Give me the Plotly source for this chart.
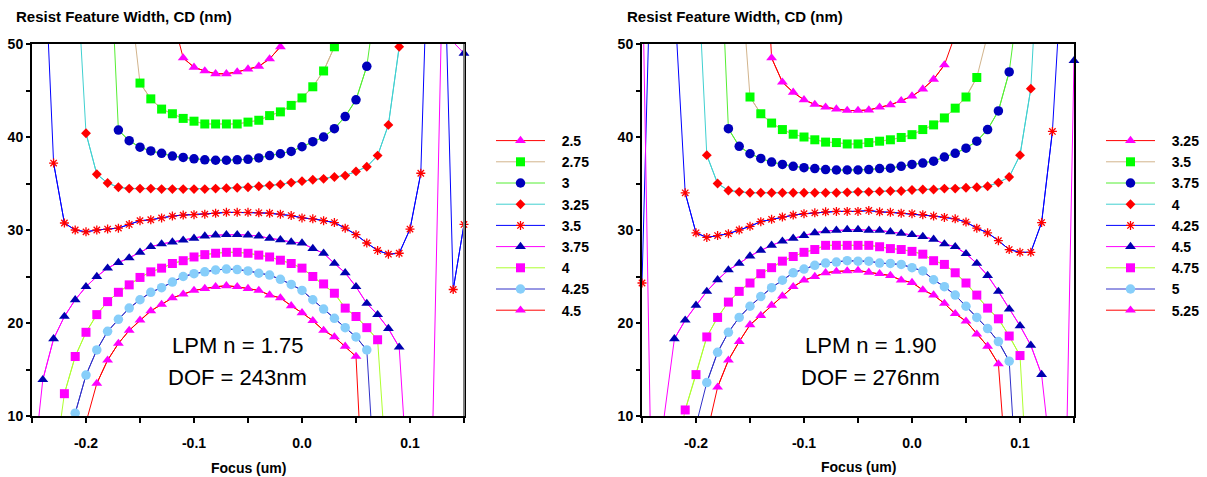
import plotly.graph_objects as go

# Focus grid (um) shared by every curve
FOCUS = [-0.25, -0.24, -0.23, -0.22, -0.21, -0.20, -0.19, -0.18, -0.17, -0.16,
         -0.15, -0.14, -0.13, -0.12, -0.11, -0.10, -0.09, -0.08, -0.07, -0.06,
         -0.05, -0.04, -0.03, -0.02, -0.01, 0.00, 0.01, 0.02, 0.03, 0.04,
         0.05, 0.06, 0.07, 0.08, 0.09, 0.10, 0.11, 0.12, 0.13, 0.14, 0.15]

# ---- Left panel: LPM n = 1.75 -------------------------------------------
# each curve: (first focus value, CD values in nm at consecutive focus steps)
left_labels = ["2.5", "2.75", "3", "3.25", "3.5", "3.75", "4", "4.25", "4.5"]

left_cd_2_5 = (-0.12, [53, 48.5, 47.5, 47.1, 46.8, 46.8, 47.0, 47.3, 47.6, 48.4,
                       49.7, 53])
left_cd_2_75 = (-0.16, [56, 45.8, 44.1, 43.0, 42.5, 42.0, 41.7, 41.4, 41.4, 41.4,
                        41.4, 41.6, 41.8, 42.3, 42.7, 43.4, 44.2, 45.4, 47.1, 49.7,
                        53])
left_cd_3 = (-0.18, [66, 40.75, 39.6, 38.9, 38.5, 38.25, 37.95, 37.8, 37.65, 37.55,
                     37.5, 37.5, 37.55, 37.6, 37.75, 38.0, 38.2, 38.45, 38.95, 39.5,
                     40.0, 40.9, 42.2, 44.0, 47.6, 56])
left_cd_3_25 = (-0.21, [61, 40.4, 36.0, 35.05, 34.6, 34.45, 34.45, 34.45, 34.4, 34.4,
                        34.4, 34.4, 34.4, 34.45, 34.5, 34.55, 34.6, 34.7, 34.8, 34.9,
                        35.1, 35.25, 35.4, 35.5, 35.7, 35.85, 36.3, 36.8, 38.0, 41.3,
                        49.7, 60])
left_cd_3_5 = (-0.24, [64, 37.2, 30.75, 30.0, 29.8, 30.0, 30.1, 30.2, 30.6, 31.0,
                       31.1, 31.3, 31.5, 31.6, 31.65, 31.7, 31.8, 31.9, 31.9, 31.9,
                       31.85, 31.8, 31.7, 31.55, 31.3, 31.2, 31.0, 30.8, 30.2, 29.5,
                       28.6, 27.8, 27.4, 27.5, 30.1, 36.1, 74, 68, 23.6, 30.6])
left_cd_3_75 = (-0.25, [3, 13.9, 18.3, 20.7, 22.5, 23.9, 25.0, 25.9, 26.5, 27.0,
                        27.6, 28.2, 28.5, 28.7, 28.9, 29.1, 29.35, 29.45, 29.5, 29.5,
                        29.45, 29.35, 29.1, 28.95, 28.7, 28.6, 28.0, 27.5, 26.4, 25.4,
                        23.9, 22.1, 20.9, 19.4, 17.4, -1, -5, 3, 57, 50.2,
                        49.0])
left_cd_4 = (-0.23, [4, 12.4, 16.4, 19.0, 20.9, 22.3, 23.3, 24.1, 24.9, 25.5,
                     25.9, 26.4, 26.7, 27.1, 27.35, 27.5, 27.6, 27.6, 27.5, 27.3,
                     27.1, 26.75, 26.4, 25.9, 25.0, 24.2, 23.2, 21.6, 20.7, 19.5,
                     18.2, 1])
left_cd_4_25 = (-0.22, [0, 10.3, 14.4, 17.1, 19.1, 20.4, 21.6, 22.5, 23.3, 23.8,
                        24.4, 25.0, 25.3, 25.5, 25.7, 25.8, 25.75, 25.6, 25.35, 25.15,
                        24.7, 24.15, 23.5, 22.5, 21.5, 20.5, 19.5, 18.5, 17.1, -2])
left_cd_4_5 = (-0.20, [9.3, 13.5, 16.0, 17.8, 19.2, 20.3, 21.3, 22.0, 22.7, 23.1,
                       23.5, 23.7, 23.9, 24.0, 23.9, 23.7, 23.5, 23.0, 22.7, 21.85,
                       21.1, 20.25, 19.2, 18.5, 17.5, 16.4, -7])

# ---- Right panel: LPM n = 1.90 ------------------------------------------
right_labels = ["3.25", "3.5", "3.75", "4", "4.25", "4.5", "4.75", "5", "5.25"]

right_cd_3_25 = (-0.14, [70, 48.5, 45.9, 44.8, 44.0, 43.5, 43.2, 43.0, 42.85, 42.85,
                         42.9, 43.2, 43.45, 43.9, 44.4, 45.15, 46.2, 47.75, 51, 56])
right_cd_3_5 = (-0.16, [60, 44.3, 42.5, 41.5, 40.8, 40.3, 40.0, 39.7, 39.45, 39.4,
                        39.25, 39.25, 39.4, 39.55, 39.7, 39.95, 40.25, 40.8, 41.3, 42.05,
                        43.1, 44.3, 46.4, 51, 60])
right_cd_3_75 = (-0.18, [68, 40.9, 39.0, 38.2, 37.7, 37.3, 37.05, 36.85, 36.7, 36.6,
                         36.5, 36.45, 36.45, 36.45, 36.5, 36.6, 36.65, 36.85, 37.05, 37.2,
                         37.4, 37.85, 38.25, 38.8, 39.55, 40.8, 42.8, 47.0, 56])
right_cd_4 = (-0.20, [62, 38.05, 35.0, 34.25, 34.1, 34.0, 34.0, 34.0, 34.0, 34.0,
                      34.0, 34.0, 34.0, 34.0, 34.05, 34.1, 34.1, 34.15, 34.2, 34.2,
                      34.3, 34.35, 34.35, 34.45, 34.45, 34.55, 34.6, 34.7, 35.1, 35.7,
                      38.05, 45.2, 67])
right_cd_4_25 = (-0.25, [24.3, 68, 70, 55, 34.0, 29.7, 29.2, 29.4, 29.6, 30.0,
                         30.4, 30.9, 31.15, 31.4, 31.6, 31.75, 31.85, 31.95, 32.0, 32.0,
                         32.0, 32.1, 31.95, 31.9, 31.8, 31.75, 31.65, 31.5, 31.35, 31.2,
                         30.85, 30.2, 29.7, 28.85, 27.9, 27.6, 27.6, 30.8, 40.6, 63,
                         80])
right_cd_4_5 = (-0.25, [61, -7, 9.5, 18.3, 20.3, 21.9, 23.4, 24.65, 25.7, 26.4,
                        27.2, 27.8, 28.35, 28.8, 29.1, 29.4, 29.7, 29.9, 29.97, 30.05,
                        30.05, 29.97, 29.95, 29.8, 29.65, 29.5, 29.3, 29.0, 28.5, 28.2,
                        27.45, 26.4, 25.1, 23.4, 21.5, 19.7, 17.6, 14.45, 4, -12,
                        48.2])
right_cd_4_75 = (-0.22, [5, 10.65, 14.45, 18.5, 20.6, 22.25, 23.4, 24.3, 25.3, 25.95,
                         26.65, 27.15, 27.6, 27.9, 28.35, 28.35, 28.35, 28.35, 28.35, 28.2,
                         28.0, 27.9, 27.7, 27.4, 26.7, 26.3, 25.4, 24.3, 23.0, 21.6,
                         20.45, 18.6, 16.5, -4])
right_cd_5 = (-0.20, [9, 13.6, 16.85, 19.0, 20.6, 21.8, 22.85, 23.8, 24.6, 25.4,
                      25.8, 26.2, 26.45, 26.55, 26.7, 26.65, 26.65, 26.45, 26.4, 26.3,
                      25.95, 25.6, 24.65, 23.9, 23.0, 21.8, 20.6, 19.4, 18.0, 15.9,
                      -3])
right_cd_5_25 = (-0.19, [8, 13.1, 16.0, 18.0, 19.8, 20.8, 21.9, 22.9, 23.9, 24.6,
                         25.0, 25.4, 25.55, 25.6, 25.65, 25.45, 25.3, 25.1, 24.6, 24.35,
                         23.55, 23.0, 22.1, 21.0, 20.2, 18.8, 17.5, 15.6, 0])

left_curves = [left_cd_2_5, left_cd_2_75, left_cd_3, left_cd_3_25, left_cd_3_5,
               left_cd_3_75, left_cd_4, left_cd_4_25, left_cd_4_5]
right_curves = [right_cd_3_25, right_cd_3_5, right_cd_3_75, right_cd_4, right_cd_4_25,
                right_cd_4_5, right_cd_4_75, right_cd_5, right_cd_5_25]

# text shown on the charts
x_tick_vals = [-0.25, -0.2, -0.15, -0.1, -0.05, 0.0, 0.05, 0.1, 0.15]
x_tick_text = ["", "-0.2", "", "-0.1", "", "0.0", "", "0.1", ""]
y_tick_vals = [10, 15, 20, 25, 30, 35, 40, 45, 50]
y_tick_text = ["10", "", "20", "", "30", "", "40", "", "50"]
left_notes = ["LPM n = 1.75", "DOF = 243nm"]
right_notes = ["LPM n = 1.90", "DOF = 276nm"]
y_title = "Resist Feature Width, CD (nm)"
x_title = "Focus (um)"

CD_MIN, CD_MAX = 10, 50

# line colour, marker symbol, marker colour, marker size (same sequence in both panels)
STYLES = [
    ("#ff0000", "triangle-up", "#ff00ff", 9.5),
    ("#d2b48c", "square", "#00ff00", 9),
    ("#55ee33", "circle", "#0000bb", 9.5),
    ("#40d0d0", "diamond", "#ff0000", 7.6),
    ("#0000ff", "asterisk-open", "#ff0000", 7.5),
    ("#ff00ff", "triangle-up", "#0000b0", 9.5),
    ("#adff2f", "square", "#ff00ff", 9),
    ("#3030c8", "circle", "#87cefa", 9.5),
    ("#ff0000", "triangle-up", "#ff00ff", 9.5),
]

BOLD = dict(family="Liberation Sans, Arial, sans-serif", size=14, color="black", weight="bold")
NOTE = dict(family="Liberation Sans, Arial, sans-serif", size=22, color="black")

W, H = 1207, 477
LEGEND_PAD = "\u00a0\u00a0\u00a0"   # gap between legend sample and its label


def on_grid(curve):
    start, values = curve
    i0 = int(round((start - FOCUS[0]) / 0.01))
    return [None] * i0 + list(values) + [None] * (len(FOCUS) - i0 - len(values))


fig = go.Figure()


def add_panel(curves, labels, xa, ya, legend_name):
    for k, (curve, label) in enumerate(zip(curves, labels)):
        lc, sym, mc, ms = STYLES[k]
        cd = on_grid(curve)
        # full curve, clipped by the plot area
        fig.add_trace(go.Scatter(
            x=FOCUS, y=cd, mode="lines", xaxis=xa, yaxis=ya,
            line=dict(color=lc, width=1), showlegend=False, hoverinfo="skip"))
        # markers only where the CD lies inside the axis range
        cd_in = [v if v is not None and CD_MIN <= v <= CD_MAX else None for v in cd]
        is_open = sym.endswith("open")
        fig.add_trace(go.Scatter(
            x=FOCUS, y=cd_in, mode="lines+markers", xaxis=xa, yaxis=ya,
            name=LEGEND_PAD + label,
            legend=legend_name, legendgroup=legend_name + label,
            line=dict(color=lc, width=1), cliponaxis=False,
            marker=dict(symbol=sym, color=mc, size=ms,
                        line=dict(color=mc, width=1.3 if is_open else 0))))


add_panel(left_curves, left_labels, "x", "y", "legend")
add_panel(right_curves, right_labels, "x2", "y2", "legend2")

y_dom = [1 - 416 / H, 1 - 44 / H]
left_dom = [32 / W, 464 / W]
right_dom = [642 / W, 1074 / W]


def xaxis(domain, anchor):
    return dict(domain=domain, anchor=anchor, range=[-0.25, 0.15], tickmode="array",
                tickvals=x_tick_vals, ticktext=x_tick_text, ticks="outside", ticklen=5,
                tickwidth=1.5, tickcolor="black", showline=True, linecolor="black",
                linewidth=2, mirror=True, showgrid=False, zeroline=False,
                tickfont=BOLD, ticklabelstandoff=8, fixedrange=True, automargin=False)


def yaxis(anchor):
    return dict(domain=y_dom, anchor=anchor, range=[CD_MIN, CD_MAX], tickmode="array",
                tickvals=y_tick_vals, ticktext=y_tick_text, ticks="outside", ticklen=4,
                tickwidth=1.5, tickcolor="black", showline=True, linecolor="black",
                linewidth=2, mirror=True, showgrid=False, zeroline=False,
                tickfont=BOLD, fixedrange=True, automargin=False)


def legend_at(x_px, y_px):
    return dict(x=x_px / W, y=1 - y_px / H, xanchor="left", yanchor="top",
                font=BOLD, bgcolor="rgba(0,0,0,0)", borderwidth=0, itemwidth=49,
                tracegroupgap=0, traceorder="grouped")


annotations = [
    dict(text=y_title, x=14 / W, y=1 - 17 / H, xref="paper", yref="paper",
         xanchor="left", yanchor="middle", showarrow=False, font=dict(BOLD, size=15)),
    dict(text=y_title, x=625 / W, y=1 - 17 / H, xref="paper", yref="paper",
         xanchor="left", yanchor="middle", showarrow=False, font=dict(BOLD, size=15)),
    dict(text=x_title, x=(left_dom[0] + left_dom[1]) / 2, y=1 - 468 / H, xref="paper",
         yref="paper", xanchor="center", yanchor="middle", showarrow=False, font=BOLD),
    dict(text=x_title, x=(right_dom[0] + right_dom[1]) / 2, y=1 - 467 / H, xref="paper",
         yref="paper", xanchor="center", yanchor="middle", showarrow=False, font=BOLD),
]
for notes, xr, yr, fx in ((left_notes, "x", "y", -0.060), (right_notes, "x2", "y2", -0.038)):
    for text, fy in zip(notes, (17.6, 14.1)):
        annotations.append(dict(text=text, x=fx, y=fy, xref=xr, yref=yr, xanchor="center",
                                yanchor="middle", showarrow=False, font=NOTE))

fig.update_layout(
    width=W, height=H, margin=dict(l=0, r=0, t=0, b=0, autoexpand=False),
    paper_bgcolor="white", plot_bgcolor="white",
    xaxis=xaxis(left_dom, "y"), yaxis=yaxis("x"),
    xaxis2=xaxis(right_dom, "y2"), yaxis2=yaxis("x2"),
    legend=legend_at(491, 125), legend2=legend_at(1101, 125),
    annotations=annotations,
    shapes=[dict(type="line", xref="x domain", yref="y domain", x0=1, x1=1, y0=0, y1=1,
                 line=dict(color="#808080", width=2), layer="above")],
    showlegend=True,
)

fig.write_html("out.html", config={"displayModeBar": False})
